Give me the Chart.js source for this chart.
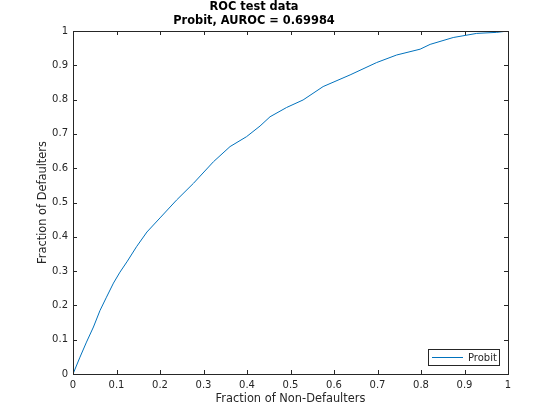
<!DOCTYPE html>
<html lang="en">
<head>
    <meta charset="UTF-8">
    <title>ROC test data</title>
    <script src="https://cdn.jsdelivr.net/npm/chart.js@4"></script>
    <style>
        body { margin: 0; background: #fff; }
    </style>
</head>
<body>
    <canvas id="rocChart" width="560" height="420"></canvas>

    <script>
    // fraction of non-defaulters (x) and defaulters (y)
    var fpr = [0, 0.016, 0.031, 0.047, 0.062, 0.077, 0.093, 0.108, 0.125, 0.146, 0.17, 0.2, 0.238, 0.277, 0.323,
               0.361, 0.399, 0.43, 0.453, 0.491, 0.529, 0.575, 0.637, 0.698, 0.744, 0.798, 0.821, 0.874, 0.928,
               0.974, 1];
    var tpr = [0, 0.049, 0.093, 0.137, 0.185, 0.224, 0.265, 0.297, 0.329, 0.371, 0.414, 0.455, 0.507, 0.556, 0.619,
               0.663, 0.692, 0.723, 0.75, 0.777, 0.799, 0.838, 0.872, 0.908, 0.93, 0.947, 0.961, 0.981, 0.993,
               0.996, 1];
    var tickValues = [0, 0.1, 0.2, 0.3, 0.4, 0.5, 0.6, 0.7, 0.8, 0.9, 1];
    var titleLines = ['ROC test data', 'Probit, AUROC = 0.69984'];
    var seriesName = 'Probit';

    var axisColor = '#262626';
    var fontName = "'DejaVu Sans', sans-serif";

    var puntos = [];
    for (var i = 0; i < fpr.length; i++) {
      puntos.push({x: fpr[i], y: tpr[i]});
    }

    function tickLabel(v) {
      return String(Math.round(v * 10) / 10);
    }

    // box round the axes with inward ticks on all four sides, plus the legend
    var marcoPlugin = {
      id: 'marco',
      afterDraw: function(chart) {
        var ctx = chart.ctx;
        var a = chart.chartArea;
        var sx = chart.scales.x;
        var sy = chart.scales.y;
        ctx.save();
        ctx.strokeStyle = axisColor;
        ctx.lineWidth = 1;
        ctx.strokeRect(Math.round(a.left) + 0.5, Math.round(a.top) + 0.5,
                       Math.round(a.right - a.left), Math.round(a.bottom - a.top));
        ctx.beginPath();
        tickValues.forEach(function(v) {
          var px = Math.round(sx.getPixelForValue(v)) + 0.5;
          ctx.moveTo(px, a.bottom); ctx.lineTo(px, a.bottom - 4);
          ctx.moveTo(px, a.top); ctx.lineTo(px, a.top + 4);
          var py = Math.round(sy.getPixelForValue(v)) + 0.5;
          ctx.moveTo(a.left, py); ctx.lineTo(a.left + 4, py);
          ctx.moveTo(a.right, py); ctx.lineTo(a.right - 4, py);
        });
        ctx.stroke();

        // legend, bottom right inside the axes
        var ds = chart.data.datasets[0];
        var bx = 428.5, by = 349.5, bw = 71, bh = 16;
        ctx.fillStyle = '#fff';
        ctx.fillRect(bx, by, bw, bh);
        ctx.strokeStyle = axisColor;
        ctx.strokeRect(bx, by, bw, bh);
        ctx.strokeStyle = ds.borderColor;
        ctx.beginPath();
        ctx.moveTo(432, by + bh / 2);
        ctx.lineTo(463, by + bh / 2);
        ctx.stroke();
        ctx.fillStyle = axisColor;
        ctx.font = '10px ' + fontName;
        ctx.textBaseline = 'middle';
        ctx.fillText(ds.label, 468, by + bh / 2 + 0.5);
        ctx.restore();
      }
    };

    const ctx = document.getElementById('rocChart');
    new Chart(ctx, {
      type: 'scatter',
      data: {
        datasets: [{
          label: seriesName,
          data: puntos,
          showLine: true,
          borderColor: '#0072BD',
          borderWidth: 1,
          pointRadius: 0,
          fill: false,
          tension: 0
        }]
      },
      options: {
        responsive: false,
        animation: false,
        layout: {
          padding: {left: 0, right: 52, top: 0, bottom: 0}
        },
        plugins: {
          legend: {display: false},
          tooltip: {enabled: false},
          title: {
            display: true,
            text: titleLines,
            color: '#000',
            font: {family: fontName, size: 11.4, weight: 'bold', lineHeight: '14px'},
            padding: {top: 0, bottom: 3}
          }
        },
        scales: {
          x: {
            type: 'linear',
            min: 0,
            max: 1,
            afterFit: function(s) { s.height = 46; },
            afterBuildTicks: function(s) { s.ticks = tickValues.map(function(v) { return {value: v}; }); },
            grid: {display: false, drawTicks: false},
            border: {display: false},
            ticks: {
              color: axisColor,
              font: {family: fontName, size: 10},
              padding: 5,
              maxRotation: 0,
              callback: tickLabel
            },
            title: {
              display: true,
              text: 'Fraction of Non-Defaulters',
              color: axisColor,
              font: {family: fontName, size: 11.4},
              padding: {top: 0, bottom: 14}
            }
          },
          y: {
            type: 'linear',
            min: 0,
            max: 1,
            afterFit: function(s) { s.width = 73; },
            afterBuildTicks: function(s) { s.ticks = tickValues.map(function(v) { return {value: v}; }); },
            grid: {display: false, drawTicks: false},
            border: {display: false},
            ticks: {
              color: axisColor,
              font: {family: fontName, size: 10},
              padding: 5,
              callback: tickLabel
            },
            title: {
              display: true,
              text: 'Fraction of Defaulters',
              color: axisColor,
              font: {family: fontName, size: 11.4},
              padding: {top: 36, bottom: 0}
            }
          }
        }
      },
      plugins: [marcoPlugin]
    });
    </script>
</body>
</html>
